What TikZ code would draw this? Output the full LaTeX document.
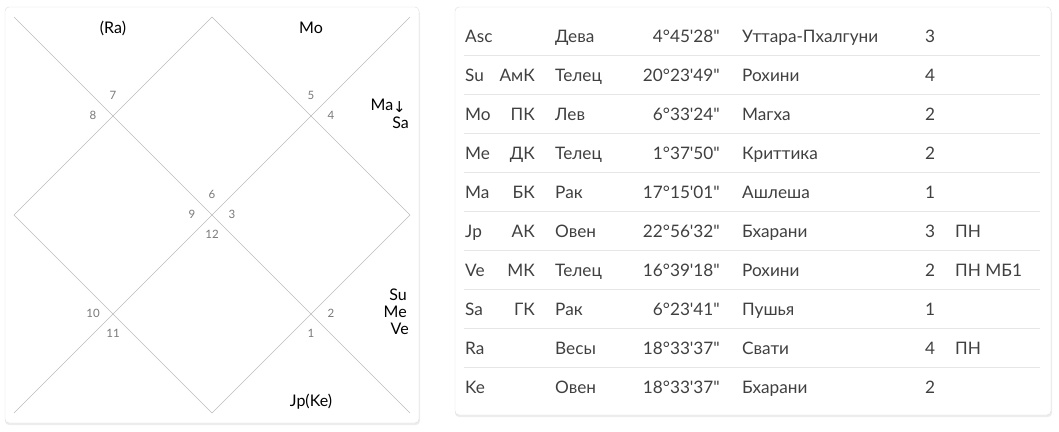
\documentclass[tikz,border=0pt]{standalone}
\usepackage{fontspec}
\setmainfont{Lato}[Ligatures=TeXOff]
\newfontfamily\arrowfont{DejaVu Sans}
\usetikzlibrary{positioning}

\definecolor{cardline}{HTML}{DDDDDD}
\definecolor{gridline}{HTML}{BDBDBD}
\definecolor{housenum}{HTML}{7A7A7A}
\definecolor{rowline}{HTML}{E6E6E6}
\definecolor{tabtext}{HTML}{404040}

\tikzset{
  card/.style={draw=cardline, rounded corners=4pt, fill=white},
  cardshadow/.style={fill=black!7, rounded corners=4pt},
  grid/.style={draw=gridline, line width=0.6pt},
  planet/.style={font=\fontsize{16}{18}\selectfont, inner sep=0pt, text=black},
  house/.style={font=\fontsize{11.5}{13}\selectfont, inner sep=0pt, text=housenum},
  cell/.style={font=\fontsize{17.2}{19}\selectfont, inner sep=0pt, text=tabtext},
}

\begin{document}
\begin{tikzpicture}[x=1pt, y=-1pt]
    \useasboundingbox (0,0) rectangle (1059,431);

    % Draw cards
    \fill[cardshadow] (5,9) rectangle (420,425);
    \draw[card] (5,7) rectangle (419,423);
    \fill[cardshadow] (455,9) rectangle (1052,417);
    \draw[card] (455,7) rectangle (1051,415);

    % Chart corners and midpoints
    \coordinate (tl) at (14,17);
    \coordinate (tr) at (410,17);
    \coordinate (br) at (410,413);
    \coordinate (bl) at (14,413);
    \coordinate (t) at (212,17);
    \coordinate (r) at (410,215);
    \coordinate (b) at (212,413);
    \coordinate (l) at (14,215);

    % Draw chart lines
    \draw[grid] (tl) -- (br);
    \draw[grid] (tr) -- (bl);
    \draw[grid] (t) -- (r) -- (b) -- (l) -- cycle;

    % House numbers
    \foreach \n/\x/\y in {7/113/95, 8/93/115, 5/311/95, 4/331/115, 6/212/194, 9/192/214, 3/232/214, 12/212/234, 10/93/313, 11/113/333, 2/331/313, 1/311/333} {
      \node[house] (h\n) at (\x,\y) {\n};
    }

    % Planets in houses
    \node[planet] (ra) at (113,28) {(Ra)};
    \node[planet] (mo) at (311,28) {Mo};
    \node[planet, anchor=east] (ma) at (406,106) {Ma\raisebox{-2pt}{\arrowfont\fontsize{15}{15}\selectfont ↓}};
    \node[planet, anchor=east] (sa) at (409,123) {Sa};
    \node[planet, anchor=east] (su) at (407,295) {Su};
    \node[planet, anchor=east] (me) at (407,312) {Me};
    \node[planet, anchor=east] (ve) at (409,329) {Ve};
    \node[planet] (jp) at (311,402) {Jp(Ke)};

    % Table rules
    \foreach \i in {1,...,9} {
      \draw[rowline] (464,16.5+39*\i) -- (1040,16.5+39*\i);
    }

    % Table rows
    \foreach \pl/\kar/\sign/\deg/\nak/\pada/\note [count=\i from 0] in {
        Asc//Дева/4°45'28"/Уттара-Пхалгуни/3/,
        Su/АмК/Телец/20°23'49"/Рохини/4/,
        Mo/ПК/Лев/6°33'24"/Магха/2/,
        Me/ДК/Телец/1°37'50"/Криттика/2/,
        Ma/БК/Рак/17°15'01"/Ашлеша/1/,
        Jp/АК/Овен/22°56'32"/Бхарани/3/ПН,
        Ve/МК/Телец/16°39'18"/Рохини/2/ПН МБ1,
        Sa/ГК/Рак/6°23'41"/Пушья/1/,
        Ra//Весы/18°33'37"/Свати/4/ПН,
        Ke//Овен/18°33'37"/Бхарани/2/} {
      \pgfmathsetmacro\y{42+39*\i}
      \node[cell, anchor=base west] (pl\i) at (465,\y) {\pl};
      \node[cell, anchor=base east] (kar\i) at (535,\y) {\kar};
      \node[cell, anchor=base west] (sign\i) at (555,\y) {\sign};
      \node[cell, anchor=base east] (deg\i) at (720,\y) {\deg};
      \node[cell, anchor=base west] (nak\i) at (742,\y) {\nak};
      \node[cell, anchor=base] (pada\i) at (930,\y) {\pada};
      \node[cell, anchor=base west] (note\i) at (955,\y) {\note};
    }
\end{tikzpicture}
\end{document}
